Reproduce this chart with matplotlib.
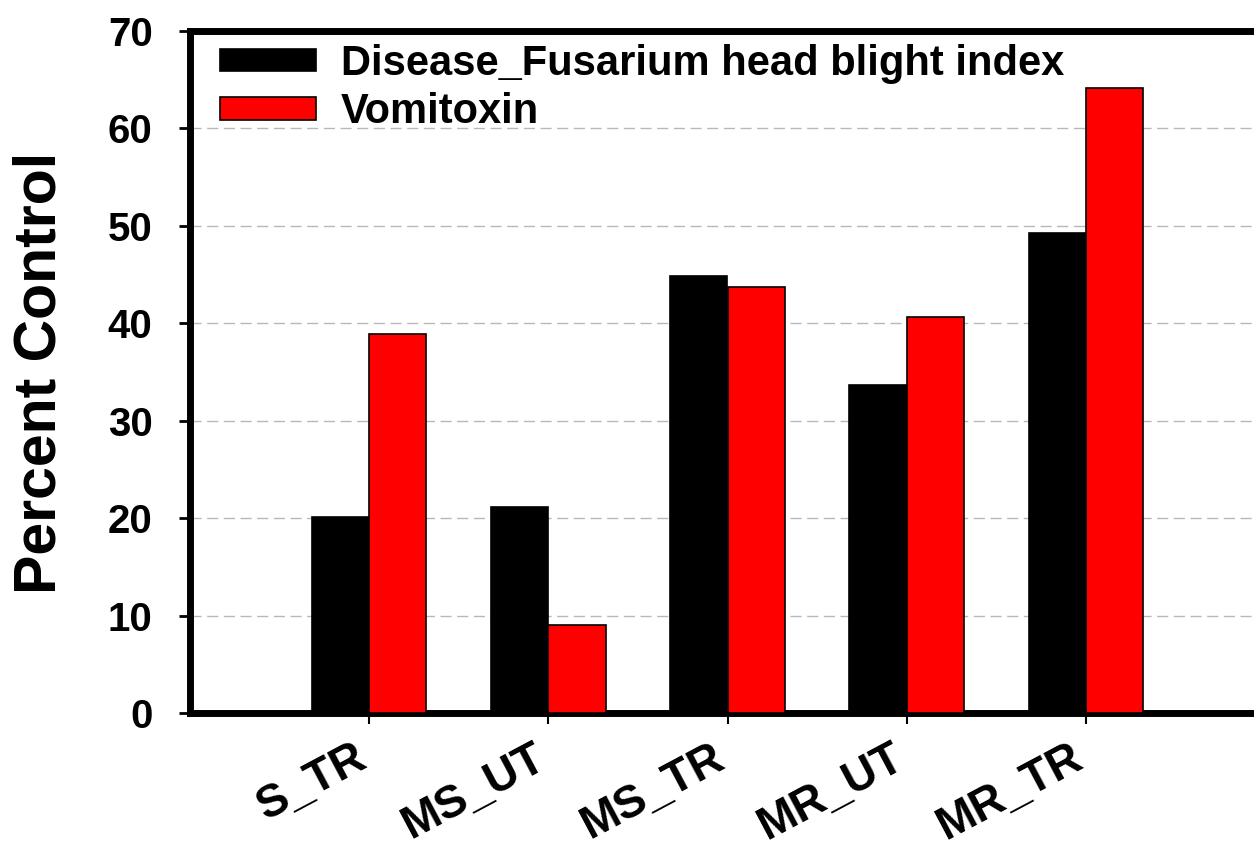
import matplotlib.pyplot as plt
import matplotlib.transforms as mtransforms
import numpy as np

plt.rcParams['font.family'] = ['Liberation Sans', 'DejaVu Sans']
plt.rcParams['font.weight'] = 'bold'

categories = ['S_TR', 'MS_UT', 'MS_TR', 'MR_UT', 'MR_TR']
disease = [20.1, 21.1, 44.9, 33.7, 49.3]
vomitoxin = [38.9, 9.0, 43.7, 40.6, 64.2]

fig = plt.figure(figsize=(12.54, 8.51), dpi=100)
ax = fig.add_axes([190 / 1254, 1 - 713 / 851, (1265 - 190) / 1254, (713 - 31) / 851])

x = np.arange(1, len(categories) + 1)
w = 0.32
ax.bar(x - w / 2, disease, w, color='black', edgecolor='black', linewidth=1.2,
       label='Disease_Fusarium head blight index', zorder=3)
ax.bar(x + w / 2, vomitoxin, w, color='#ff0000', edgecolor='black', linewidth=1.2,
       label='Vomitoxin', zorder=3)

ax.set_xlim(0, 6)
ax.set_ylim(0, 70)
ax.set_yticks(range(0, 71, 10))
ax.set_xticks(x)
ax.set_xticklabels(categories, rotation=28, ha='right', va='baseline',
                   rotation_mode='anchor', fontsize=33, fontweight='bold')
shift = mtransforms.ScaledTranslation(6 / 72, 0, fig.dpi_scale_trans)
for lbl in ax.get_xticklabels():
    lbl.set_transform(lbl.get_transform() + shift)
for lbl in ax.get_yticklabels():
    lbl.set_fontsize(29)
    lbl.set_fontweight('bold')

for y in range(10, 70, 10):
    ax.axhline(y, color='#b8b8b8', linestyle=(0, (8, 4)), linewidth=1.0, zorder=1)

for s in ax.spines.values():
    s.set_linewidth(5)
ax.tick_params(axis='y', direction='out', length=8, width=2, pad=19)
ax.tick_params(axis='x', direction='out', length=8, width=1.5, pad=30)

fig.text(40 / 1254, 1 - 373 / 851, 'Percent Control', rotation=90,
         fontsize=42.5, fontweight='bold', ha='center', va='center')

ax.legend(loc='upper left', bbox_to_anchor=(220 / 1254, 1 - 44 / 851),
          bbox_transform=fig.transFigure, frameon=False, fontsize=30,
          handlelength=2.3, handleheight=0.45, handletextpad=0.6,
          labelspacing=0.2, borderpad=0, borderaxespad=0)

fig.savefig('out.png', dpi=100, facecolor='white')
